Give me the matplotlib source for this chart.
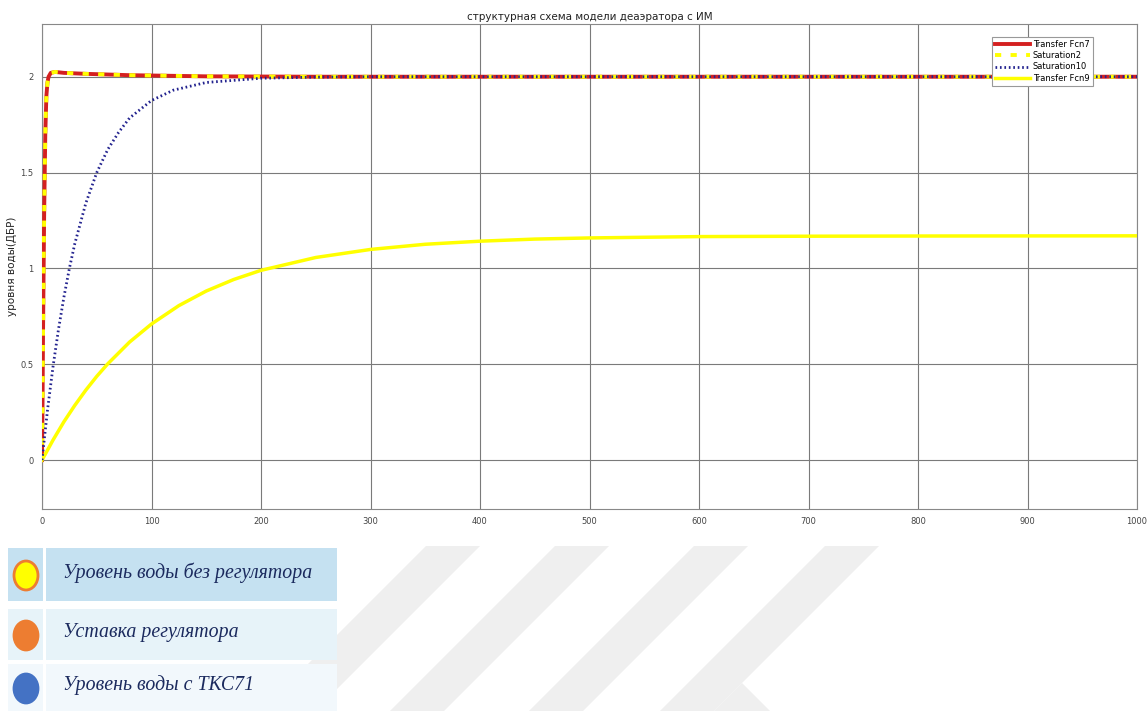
import numpy as np
import matplotlib
matplotlib.use("Agg")
import matplotlib.pyplot as plt
from matplotlib.patches import Rectangle, Ellipse, Polygon

# --- data ---
t_fast = [0, 0.5, 1, 2, 3, 4, 5, 6, 8, 12, 20, 40, 80, 150, 250, 1000]
y_fast = [0, 0.3, 0.7, 1.3, 1.7, 1.9, 1.97, 2.0, 2.02, 2.025, 2.02, 2.015, 2.008, 2.002, 2.0, 2.0]

t_sat10 = [0, 5, 10, 15, 20, 25, 30, 40, 50, 60, 70, 80, 100, 120, 150, 200, 250, 300, 1000]
y_sat10 = [0, 0.26, 0.485, 0.68, 0.85, 1.0, 1.13, 1.34, 1.5, 1.62, 1.71, 1.785, 1.876, 1.93,
           1.97, 1.992, 1.998, 2.0, 2.0]

t_fcn9 = [0, 10, 20, 30, 40, 50, 60, 80, 100, 125, 150, 175, 200, 250, 300, 350, 400, 450,
          500, 600, 700, 800, 1000]
y_fcn9 = [0, 0.104, 0.2, 0.286, 0.365, 0.437, 0.502, 0.616, 0.71, 0.806, 0.882, 0.942, 0.99,
          1.057, 1.099, 1.126, 1.142, 1.153, 1.159, 1.166, 1.168, 1.169, 1.17]

legend_names = ["Transfer Fcn7", "Saturation2", "Saturation10", "Transfer Fcn9"]
panel_texts = ["Уровень воды без регулятора", "Уставка регулятора", "Уровень воды с ТКС71"]

W, H = 1148, 711
fig = plt.figure(figsize=(W / 100, H / 100), dpi=100)

# background overlay (watermark + bottom panels), in pixel coords
bg = fig.add_axes([0, 0, 1, 1], zorder=0)
bg.set_xlim(0, W)
bg.set_ylim(H, 0)
bg.axis("off")
wm = "#efefef"
for x0 in (426, 555, 694, 825):
    bg.add_patch(Polygon([(x0, 546), (x0 + 54, 546), (x0 + 54 - 165, 711), (x0 - 165, 711)],
                         closed=True, color=wm, lw=0))
bg.add_patch(Polygon([(742, 683), (770, 711), (714, 711)], closed=True, color=wm, lw=0))

rows = [(548, 601, "#c5e1f1"), (609, 660, "#e7f3f9"), (664, 711, "#f2f8fc")]
circ = [("#ffff00", "#ed7d31"), ("#ed7d31", "#ed7d31"), ("#4472c4", "#4472c4")]
for (y0, y1, c), (fc, ec), txt in zip(rows, circ, panel_texts):
    bg.add_patch(Rectangle((8, y0), 35, y1 - y0, color=c, lw=0))
    bg.add_patch(Rectangle((46, y0), 291, y1 - y0, color=c, lw=0))
    yc = (y0 + y1) / 2 + 1
    bg.add_patch(Ellipse((26, yc), 24, 29, facecolor=fc, edgecolor=ec, lw=2))
    bg.text(63, yc - 3, txt, fontsize=14.3, family="Liberation Serif", style="italic",
            color="#1b2a5e", va="center", ha="left")

# main plot
ax = fig.add_axes([42 / W, (H - 509) / H, 1095 / W, 485 / H], zorder=1)
ax.plot(t_fast, y_fast, color="#d42020", lw=2.8, label=legend_names[0], zorder=3)
ax.plot(t_fast, y_fast, color="#ffff00", lw=2.8, ls=(0, (1.6, 2.4)), label=legend_names[1], zorder=4)
ax.plot(t_sat10, y_sat10, color="#23238f", lw=2, ls=(0, (0.6, 1.0)), label=legend_names[2], zorder=5)
ax.plot(t_fcn9, y_fcn9, color="#ffff00", lw=2.5, label=legend_names[3], zorder=3)

ax.set_xlim(0, 1000)
ax.set_ylim(-0.255, 2.275)
ax.set_xticks(range(0, 1001, 100))
ax.set_yticks([0, 0.5, 1, 1.5, 2])
ax.set_yticklabels(["0", "0.5", "1", "1.5", "2"])
ax.grid(True, color="#7a7a7a", lw=0.8)
ax.tick_params(labelsize=6, colors="#444444", length=0, pad=6)
for s in ax.spines.values():
    s.set_color("#888888")
    s.set_linewidth(0.8)
ax.set_title("структурная схема модели деаэратора с ИМ", fontsize=7.5, color="#222222", pad=3)
ax.set_ylabel("уровня воды(ДБР)", fontsize=7.5, color="#222222")
ax.yaxis.set_label_coords(-25 / 1095, 0.5)

leg = ax.legend(loc="upper right", bbox_to_anchor=(0.9598, 0.9732), borderaxespad=0,
                fontsize=6, handlelength=4.2, fancybox=False, framealpha=1,
                edgecolor="#999999", labelspacing=0.25, borderpad=0.4, handletextpad=0.3)
leg.get_frame().set_linewidth(0.8)

fig.savefig("out.png", dpi=100)
